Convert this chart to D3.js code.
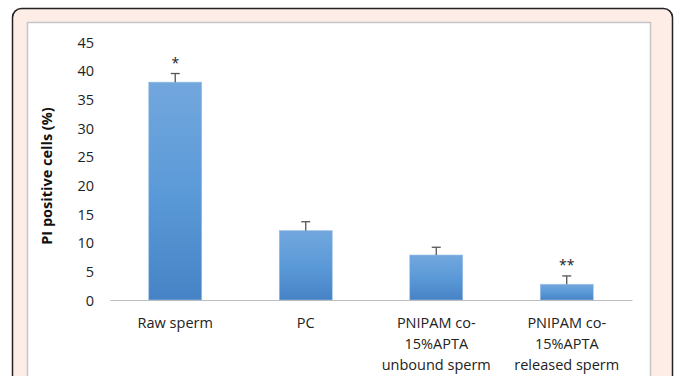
<!DOCTYPE html>
<html><head><meta charset="utf-8">
<script src="https://cdn.jsdelivr.net/npm/d3@7"></script>
<style>
html,body{margin:0;padding:0;background:#fff;}
svg{display:block;}
</style></head>
<body>
<svg id="c" width="677" height="376"></svg>
<script>
const categories = [["Raw sperm"], ["PC"], ["PNIPAM co-", "15%APTA", "unbound sperm"], ["PNIPAM co-", "15%APTA", "released sperm"]];
const values = [38.0, 12.1, 7.85, 2.75];
const errors = [1.5, 1.55, 1.35, 1.45];
const significance = ["*", "", "", "**"];
const yTicks = [0, 5, 10, 15, 20, 25, 30, 35, 40, 45];

const svg = d3.select("#c");
const font = "'Open Sans', sans-serif";

// frame
svg.append("rect").attr("x", 12.5).attr("y", 8.5).attr("width", 660).attr("height", 400)
  .attr("rx", 9).attr("fill", "#fdede6").attr("stroke", "#222").attr("stroke-width", 1.5);
svg.append("rect").attr("x", 27.5).attr("y", 22.5).attr("width", 623).attr("height", 380)
  .attr("fill", "#fff").attr("stroke", "#c6c6c6").attr("stroke-width", 1.5);

const x = d3.scaleBand().domain(d3.range(categories.length)).range([110, 632]).paddingInner(0.594).paddingOuter(0.297);
const y = d3.scaleLinear().domain([0, 45]).range([300, 42]);

const defs = svg.append("defs");
const g = defs.append("linearGradient").attr("id", "bg").attr("x1", 0).attr("y1", 0).attr("x2", 0).attr("y2", 1);
g.append("stop").attr("offset", "0%").attr("stop-color", "#72a7dd");
g.append("stop").attr("offset", "50%").attr("stop-color", "#5b9ad8");
g.append("stop").attr("offset", "100%").attr("stop-color", "#4683c6");

// y axis labels
const yAxis = d3.axisLeft(y).tickValues(yTicks).tickSize(0).tickPadding(0);
const ya = svg.append("g").attr("transform", "translate(94,0)").call(yAxis);
ya.select(".domain").remove();
ya.selectAll("text").attr("font-family", font).attr("font-size", 14.5).attr("fill", "#222").attr("dy", "0.35em");

// bars
svg.selectAll("rect.bar").data(values).join("rect").attr("class", "bar")
  .attr("x", (d, i) => x(i)).attr("width", x.bandwidth())
  .attr("y", d => y(d)).attr("height", d => y(0) - y(d))
  .attr("fill", "url(#bg)").attr("stroke", "#9dc0e6").attr("stroke-width", 0.6);

// error bars
const eb = svg.append("g").attr("stroke", "#555").attr("stroke-width", 1.3);
values.forEach((v, i) => {
  const cx = x(i) + x.bandwidth() / 2;
  eb.append("line").attr("x1", cx).attr("x2", cx).attr("y1", y(v)).attr("y2", y(v + errors[i]));
  eb.append("line").attr("x1", cx - 4.5).attr("x2", cx + 4.5).attr("y1", y(v + errors[i])).attr("y2", y(v + errors[i]));
});

// significance
svg.selectAll("text.sig").data(significance).join("text").attr("class", "sig")
  .attr("x", (d, i) => x(i) + x.bandwidth() / 2)
  .attr("y", (d, i) => y(values[i] + errors[i]) - 6)
  .attr("text-anchor", "middle").attr("font-family", font).attr("font-size", 14).attr("fill", "#222")
  .text(d => d);

// x axis
const xAxis = d3.axisBottom(x).tickSize(0).tickFormat("");
const xa = svg.append("g").attr("transform", "translate(0,300)").call(xAxis);
xa.select(".domain").attr("stroke", "#bdbdbd").attr("stroke-width", 1.2);

categories.forEach((lines, i) => {
  const t = svg.append("text").attr("x", x(i) + x.bandwidth() / 2).attr("y", 328)
    .attr("text-anchor", "middle").attr("font-family", font).attr("font-size", 14.5).attr("fill", "#222");
  lines.forEach((l, j) => t.append("tspan").attr("x", x(i) + x.bandwidth() / 2).attr("y", 328 + j * 21).text(l));
});

// y title
svg.append("text").attr("transform", "translate(52,176) rotate(-90)")
  .attr("text-anchor", "middle").attr("font-family", font).attr("font-weight", "bold")
  .attr("font-size", 14.5).attr("fill", "#111").text("PI positive cells (%)");
</script>
</body></html>
